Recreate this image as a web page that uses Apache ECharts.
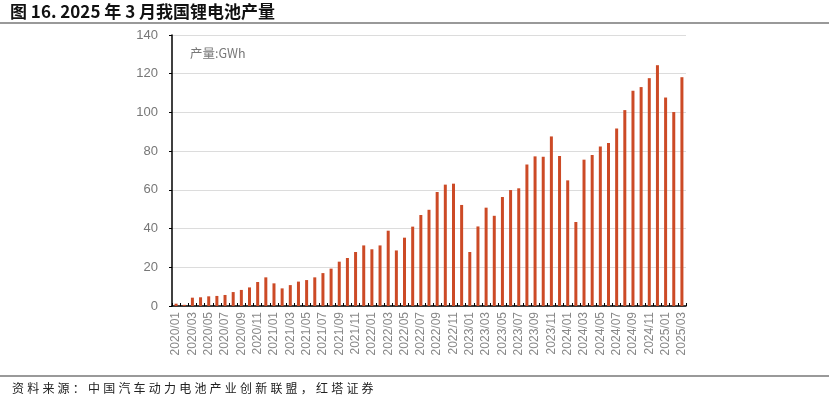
<!DOCTYPE html>
<html><head><meta charset="utf-8">
<script src="https://cdn.jsdelivr.net/npm/echarts@6/dist/echarts.min.js"></script>
<style>html,body{margin:0;padding:0;background:#fff}#c{width:829px;height:397px}</style>
</head><body><div id="c"></div>
<script>
const months = [];
for (let y = 2020; y <= 2025; y++) for (let m = 1; m <= 12; m++) { if (y === 2025 && m > 3) break; months.push(y + '/' + String(m).padStart(2, '0')); }
const production = [1.2,0.6,4.3,4.5,5.0,5.2,5.7,7.2,8.3,9.6,12.4,14.8,
  11.7,9.1,10.8,12.6,13.4,14.8,17.0,19.3,22.9,24.8,27.9,31.3,
  29.3,31.3,38.9,28.7,35.3,41.0,47.0,49.7,58.9,62.7,63.2,52.2,
  27.9,41.1,50.8,46.6,56.3,59.9,60.8,73.1,77.3,77.1,87.6,77.5,
  64.9,43.4,75.6,78.0,82.4,84.2,91.7,101.2,111.2,113.1,117.7,124.4,
  107.7,100.2,118.2];
const yTicks = {min: 0, max: 140, interval: 20};
const titleText = '图 16. 2025 年 3 月我国锂电池产量';
const unitText = '产量:GWh';
const sourceText = '资料来源：中国汽车动力电池产业创新联盟，红塔证券';

const sourceChars = Array.from(sourceText).map((ch, i) => ({
  type: 'text', x: 12 + i * 15.2, y: 382,
  style: {text: ch, font: '12px "Noto Sans CJK SC", sans-serif', fill: '#222'}
}));

const chart = echarts.init(document.getElementById('c'));
chart.setOption({
  animation: false,
  grid: {left: 172, right: 143, top: 35, bottom: 91, containLabel: false},
  xAxis: {
    type: 'category', data: months,
    axisLine: {lineStyle: {color: '#000', width: 1.5}},
    axisTick: {show: true, inside: true, length: 3, interval: 0, lineStyle: {color: '#000'}},
    axisLabel: {interval: 1, rotate: 90, color: '#888', fontSize: 12, fontFamily: 'Liberation Sans, Arial', margin: 6}
  },
  yAxis: {
    type: 'value', min: yTicks.min, max: yTicks.max, interval: yTicks.interval,
    axisLine: {show: true, lineStyle: {color: '#000', width: 1.5}},
    axisTick: {show: true, length: 3, lineStyle: {color: '#000'}},
    splitLine: {lineStyle: {color: '#dcdcdc', width: 1}},
    axisLabel: {color: '#777', fontSize: 13, fontFamily: 'Liberation Sans, Arial', margin: 14}
  },
  series: [{type: 'bar', data: production, barWidth: 3, itemStyle: {color: '#CC4A26'}}],
  graphic: [
    {type: 'text', left: 10, top: 3, style: {text: titleText, font: 'bold 17px "Noto Sans CJK SC", sans-serif', fill: '#111'}},
    {type: 'rect', shape: {x: 0, y: 22, width: 829, height: 2}, style: {fill: '#999'}},
    {type: 'text', left: 190, top: 47, style: {text: unitText, font: '12.5px "Noto Sans CJK SC", sans-serif', fill: '#777'}},
    {type: 'rect', shape: {x: 0, y: 375, width: 829, height: 2}, style: {fill: '#999'}},
    {type: 'group', children: sourceChars}
  ]
});
</script></body></html>
